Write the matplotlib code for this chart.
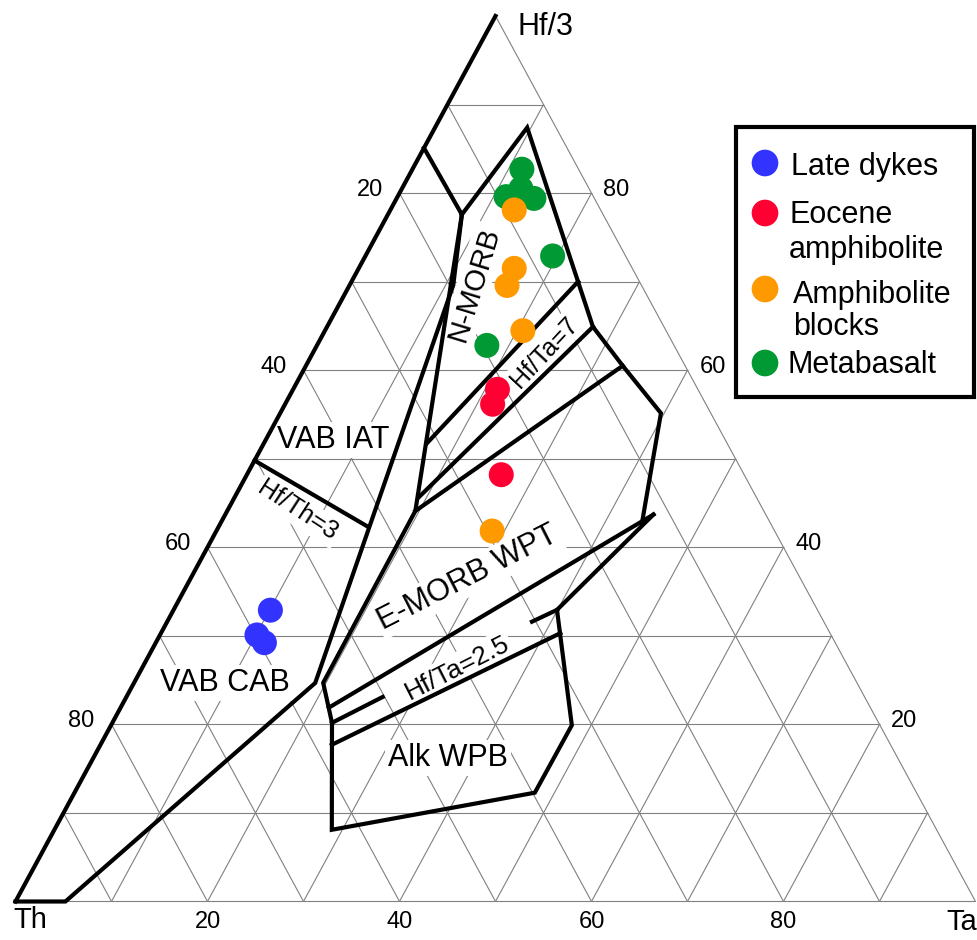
import matplotlib.pyplot as plt
from matplotlib.patches import Rectangle

plt.rcParams['font.family'] = ['Liberation Sans', 'DejaVu Sans']

# sample compositions as (Th, Ta, Hf/3) in %
late_dykes = [(57.0, 10.1, 32.9), (59.8, 10.1, 30.1), (59.4, 11.3, 29.2)]
eocene_amph = [(20.9, 21.3, 57.9), (22.2, 21.6, 56.1), (25.3, 26.5, 48.2)]
amph_blocks = [(9.0, 12.9, 78.1), (12.3, 16.2, 71.5), (14.0, 16.4, 69.5),
               (14.9, 20.6, 64.4), (29.4, 28.7, 41.8)]
metabasalt = [(5.9, 11.4, 82.7), (9.1, 11.3, 79.6), (7.6, 12.7, 79.7),
              (7.1, 12.4, 80.5), (6.3, 14.3, 79.4), (7.6, 19.5, 72.9),
              (19.5, 17.7, 62.8)]

# field boundaries (Wood 1980), same (Th, Ta, Hf/3) order
left_edge = [(100, 0, 0), (0, 0, 100)]
vab_right = [(100, 0, 0), (94.8, 5.2, 0), (56.5, 18.9, 24.7), (19.6, 10.8, 69.6),
             (14.7, 7.7, 77.5), (14.9, 0, 85.1)]
hf_th_3 = [(50.2, 0, 49.8), (42.1, 15.6, 42.3)]
n_morb_top = [(14.7, 7.7, 77.5), (3.0, 9.6, 87.4), (7.4, 27.7, 64.9),
              (6.5, 33.0, 60.5), (5.2, 39.7, 55.2), (13.4, 43.9, 42.7)]
morb_outline = [(14.7, 7.7, 77.5), (36.3, 19.6, 44.1), (55.6, 19.7, 24.7),
                (57.0, 22.9, 20.2), (63.0, 28.9, 8.1), (39.8, 48.0, 12.3),
                (32.1, 48.0, 19.9), (27.1, 39.9, 32.9), (11.7, 44.6, 43.7)]
n_morb_base = [(6.4, 23.6, 70.0), (31.2, 17.0, 51.8)]
hf_ta_7 = [(7.4, 27.7, 64.9), (35.1, 19.2, 45.7)]
e_morb_top = [(6.5, 33.0, 60.5), (36.3, 19.6, 44.1)]
e_morb_base = [(56.4, 21.7, 21.9), (11.7, 44.6, 43.7)]
hf_ta_25_a = [(27.1, 39.9, 32.9), (30.4, 38.0, 31.6)]
hf_ta_25_b = [(50.2, 26.7, 23.1), (57.0, 22.9, 20.2)]
alk_top = [(28.1, 41.6, 30.3), (58.2, 24.1, 17.7)]

ticks = [20, 40, 60, 80]
grid_steps = [10, 20, 30, 40, 50, 60, 70, 80, 90]

# triangle placement in pixels
X0, Y0, W, H = 15.5, 901.5, 960.0, 885.5


def tern(th, ta, hf):
    tot = th + ta + hf
    t, h = ta / tot, hf / tot
    return X0 + W * (t + h / 2), Y0 - H * h


def draw_line(ax, pts, **kw):
    xy = [tern(*p) for p in pts]
    ax.plot([p[0] for p in xy], [p[1] for p in xy], **kw)


fig = plt.figure(figsize=(9.77, 9.4), dpi=100)
ax = fig.add_axes([0, 0, 1, 1])
ax.set_xlim(0, 977)
ax.set_ylim(940, 0)
ax.axis('off')

grid = dict(color='#808080', lw=0.8, zorder=1, solid_capstyle='butt')
for v in grid_steps:
    draw_line(ax, [(100 - v, 0, v), (0, 100 - v, v)], **grid)
    draw_line(ax, [(100 - v, v, 0), (0, v, 100 - v)], **grid)
    draw_line(ax, [(v, 100 - v, 0), (v, 0, 100 - v)], **grid)
draw_line(ax, [(100, 0, 0), (0, 100, 0), (0, 0, 100)], **grid)

thick = dict(color='black', lw=3, zorder=4, solid_joinstyle='miter')
for line in [left_edge, vab_right, hf_th_3, n_morb_top, morb_outline, n_morb_base,
             hf_ta_7, e_morb_top, e_morb_base, hf_ta_25_a, hf_ta_25_b, alk_top]:
    draw_line(ax, line, **thick)

# field labels
box = dict(facecolor='white', edgecolor='none', pad=2)
field_labels = [
    ('VAB IAT', 333, 440, 0, 22),
    ('VAB CAB', 225, 683, 0, 22),
    ('Alk WPB', 448, 758, 0, 22),
    ('E-MORB WPT', 468, 578, 27, 22),
    ('N-MORB', 474, 284, 73, 21),
    ('Hf/Ta=7', 545, 352, 47, 18),
    ('Hf/Ta=2.5', 457, 668, 27, 19),
    ('Hf/Th=3', 298, 511, -33, 18),
]
for txt, x, y, rot, size in field_labels:
    ax.text(x, y, txt, fontsize=size, rotation=rot, rotation_mode='anchor',
            ha='center', va='center', bbox=box, zorder=3)

# apex labels
ax.text(517, 27, 'Hf/3', fontsize=22, ha='left', va='center')
ax.text(13, 920, 'Th', fontsize=21, ha='left', va='center')
ax.text(977, 922, 'Ta', fontsize=21, ha='right', va='center')

# scale numbers on the three edges
for v in ticks:
    bx, by = tern(100 - v, v, 0)
    ax.text(bx, by + 20, str(v), fontsize=17, ha='center', va='center')
    lx, ly = tern(v, 0, 100 - v)
    ax.text(lx - 30, ly - 3, str(v), fontsize=17, ha='center', va='center')
    rx, ry = tern(0, 100 - v, v)
    ax.text(rx + 25, ry - 3, str(v), fontsize=17, ha='center', va='center')

groups = [
    (late_dykes, '#3333ff', 6),
    (eocene_amph, '#ff0033', 6),
    (metabasalt, '#009933', 6),
    (amph_blocks, '#ff9900', 7),
]
for pts, col, z in groups:
    xy = [tern(*p) for p in pts]
    ax.scatter([p[0] for p in xy], [p[1] for p in xy], s=324, color=col,
               edgecolors='none', zorder=z)

# legend
ax.add_patch(Rectangle((735.5, 126.5), 238.5, 270, fill=False, lw=3,
                       edgecolor='black', zorder=5))
legend_marks = [(163, '#3333ff'), (213, '#ff0033'), (289, '#ff9900'), (363, '#009933')]
for y, col in legend_marks:
    ax.scatter([765], [y], s=369, color=col, edgecolors='none', zorder=6)
legend_text = [
    ('Late dykes', 791, 175),
    ('Eocene', 790, 223),
    ('amphibolite', 789, 258),
    ('Amphibolite', 793, 303),
    ('blocks', 793, 335),
    ('Metabasalt', 788, 373),
]
for txt, x, y in legend_text:
    ax.text(x, y, txt, fontsize=22, ha='left', va='baseline')

fig.savefig('out.png', dpi=100)
